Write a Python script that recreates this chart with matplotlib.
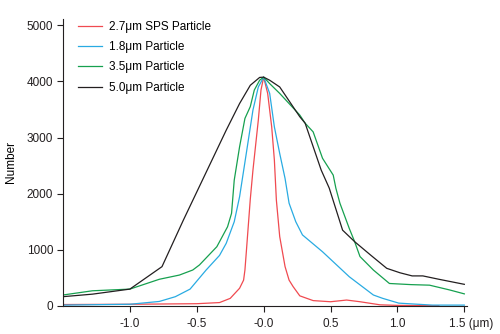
import matplotlib
matplotlib.use("Agg")
import matplotlib.pyplot as plt

# particle size distributions (x in um, counts)
red_x = [-1.5, -1.0, -0.5, -0.33, -0.25, -0.18, -0.15, -0.14, -0.13, -0.10, -0.08, -0.04, -0.02, 0.0,
         0.03, 0.06, 0.08, 0.095, 0.12, 0.16, 0.19, 0.22, 0.27, 0.37, 0.5, 0.62, 0.72, 0.87, 1.0, 1.31]
red_y = [25, 30, 40, 60, 135, 315, 460, 640, 950, 1900, 2420, 3310, 3845, 4075,
         3785, 3190, 2600, 1885, 1235, 700, 460, 345, 180, 95, 75, 105, 75, 20, 10, 5]

blue_x = [-1.5, -1.0, -0.78, -0.66, -0.55, -0.43, -0.33, -0.28, -0.22, -0.18, -0.13, -0.08, -0.04, 0.0,
          0.045, 0.08, 0.12, 0.16, 0.19, 0.24, 0.29, 0.44, 0.64, 0.82, 0.89, 1.01, 1.26, 1.5]
blue_y = [15, 30, 80, 165, 300, 640, 900, 1115, 1500, 1945, 2715, 3490, 3900, 4075,
          3785, 3190, 2715, 2270, 1830, 1500, 1265, 965, 520, 195, 135, 50, 15, 15]

green_x = [-1.5, -1.28, -1.0, -0.78, -0.63, -0.53, -0.48, -0.35, -0.27, -0.24, -0.22, -0.18, -0.14, -0.10,
           -0.07, -0.03, 0.0, 0.045, 0.12, 0.19, 0.27, 0.31, 0.37, 0.44, 0.52, 0.54, 0.57, 0.64, 0.68,
           0.72, 0.82, 0.94, 1.1, 1.24, 1.39, 1.5]
green_y = [195, 270, 300, 475, 550, 640, 730, 1055, 1410, 1650, 2240, 2835, 3340, 3550,
           3845, 4020, 4075, 3960, 3785, 3605, 3400, 3255, 3100, 2630, 2330, 2095, 1830, 1380, 1145,
           880, 640, 400, 380, 370, 285, 215]

black_x = [-1.5, -1.28, -1.0, -0.76, -0.60, -0.5, -0.43, -0.28, -0.18, -0.10, -0.03, 0.0, 0.045, 0.12,
           0.27, 0.31, 0.43, 0.49, 0.59, 0.68, 0.8, 0.92, 1.02, 1.11, 1.19, 1.31, 1.5]
black_y = [165, 210, 300, 700, 1530, 2030, 2380, 3130, 3605, 3930, 4070, 4075, 4020, 3900,
           3370, 3255, 2420, 2100, 1350, 1145, 905, 670, 590, 535, 535, 475, 385]

labels = ["2.7\u03bcm SPS Particle", "1.8\u03bcm Particle", "3.5\u03bcm Particle", "5.0\u03bcm Particle"]
colors = ["#f04a50", "#29abe2", "#16a04f", "#231f20"]

x_ticks = [-1.0, -0.5, 0.0, 0.5, 1.0, 1.5]
x_ticklabels = ["-1.0", "-0.5", "-0.0", "0.5", "1.0", ""]
last_label = "1.5 (\u03bcm)"
y_ticks = [0, 1000, 2000, 3000, 4000, 5000]

plt.rcParams['font.family'] = ['Liberation Sans', 'DejaVu Sans']
plt.rcParams['font.size'] = 8.5

fig = plt.figure(figsize=(5, 3.34), dpi=100)
ax = fig.add_axes([0.126, 0.084, 0.808, 0.859])

series = [(red_x, red_y), (blue_x, blue_y), (green_x, green_y), (black_x, black_y)]
for (xs, ys), lab, col in zip(series, labels, colors):
    ax.plot(xs, ys, color=col, lw=0.9, label=lab)

ax.set_xlim(-1.5, 1.52)
ax.set_ylim(0, 5110)
ax.set_xticks(x_ticks)
ax.set_xticklabels(x_ticklabels)
ax.set_yticks(y_ticks)
ax.tick_params(direction='out', length=4, width=0.8, colors='#231f20')
ax.tick_params(axis='y', pad=3)
ax.tick_params(axis='x', pad=4.5)
for s in ['top', 'right']:
    ax.spines[s].set_visible(False)
for s in ['left', 'bottom']:
    ax.spines[s].set_linewidth(0.8)
    ax.spines[s].set_color('#231f20')

# last x tick label carries the unit
ax.annotate(last_label, xy=(x_ticks[-1], 0), xycoords=('data', 'axes fraction'),
            xytext=(-11, -13), textcoords='offset points', ha='left', va='center', color='#231f20')
ax.set_ylabel("Number", labelpad=7)

ax.legend(loc='upper left', bbox_to_anchor=(0.026, 1.01), frameon=False, handlelength=2.0,
          handletextpad=0.6, labelspacing=0.7, borderaxespad=0)

fig.savefig("out.png", dpi=100)
